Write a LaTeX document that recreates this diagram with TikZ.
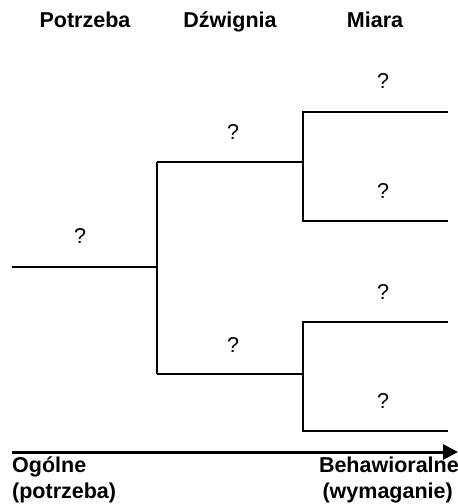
\documentclass[tikz,border=0pt]{standalone}
\usepackage{fontspec}
\setmainfont{Liberation Sans}
\usetikzlibrary{arrows.meta}
\begin{document}
\begin{tikzpicture}[x=1pt,y=-1pt,
  tree/.style={line width=2pt},
  hdr/.style={font=\fontsize{21.5}{26}\selectfont\bfseries, inner sep=0pt, anchor=base},
  qm/.style={font=\fontsize{21.5}{26}\selectfont, inner sep=0pt, anchor=base},
  axis/.style={line width=3pt, -{Triangle[length=15pt,width=15pt]}}]
\useasboundingbox (0,0) rectangle (458,504);
% headers
\node[hdr] (h1) at (85,27) {Potrzeba};
\node[hdr] (h2) at (230,27) {Dźwignia};
\node[hdr] (h3) at (375,27) {Miara};
% tree coordinates
\coordinate (r0) at (12,267);
\coordinate (r1) at (157,267);
\coordinate (u0) at (157,162);
\coordinate (d0) at (157,374);
\coordinate (u1) at (303,162);
\coordinate (d1) at (303,374);
\coordinate (uu) at (303,112);
\coordinate (ud) at (303,221);
\coordinate (du) at (303,322);
\coordinate (dd) at (303,431);
\coordinate (uuE) at (448,112);
\coordinate (udE) at (448,221);
\coordinate (duE) at (448,322);
\coordinate (ddE) at (448,431);
\draw[tree] (r0) -- (r1);
\draw[tree] (u0) -- (d0);
\draw[tree] (u0) -- (u1);
\draw[tree] (d0) -- (d1);
\draw[tree] (uuE) -- (uu) -- (ud) -- (udE);
\draw[tree] (duE) -- (du) -- (dd) -- (ddE);
% question marks
\node[qm] (q0) at (80,243) {?};
\node[qm] (q1) at (233,139) {?};
\node[qm] (q2) at (233,352) {?};
\node[qm] (q3) at (383,88) {?};
\node[qm] (q4) at (383,198) {?};
\node[qm] (q5) at (383,299) {?};
\node[qm] (q6) at (383,408) {?};
% axis
\coordinate (a0) at (12,452);
\coordinate (a1) at (458,452);
\draw[axis] (a0) -- (a1);
\node[hdr, anchor=base west] (l1) at (12,472) {Ogólne};
\node[hdr, anchor=base west] (l2) at (12,498) {(potrzeba)};
\node[hdr, anchor=base east] (r1t) at (459,472) {Behawioralne};
\node[hdr, anchor=base east] (r2t) at (453,498) {(wymaganie)};
\end{tikzpicture}
\end{document}
